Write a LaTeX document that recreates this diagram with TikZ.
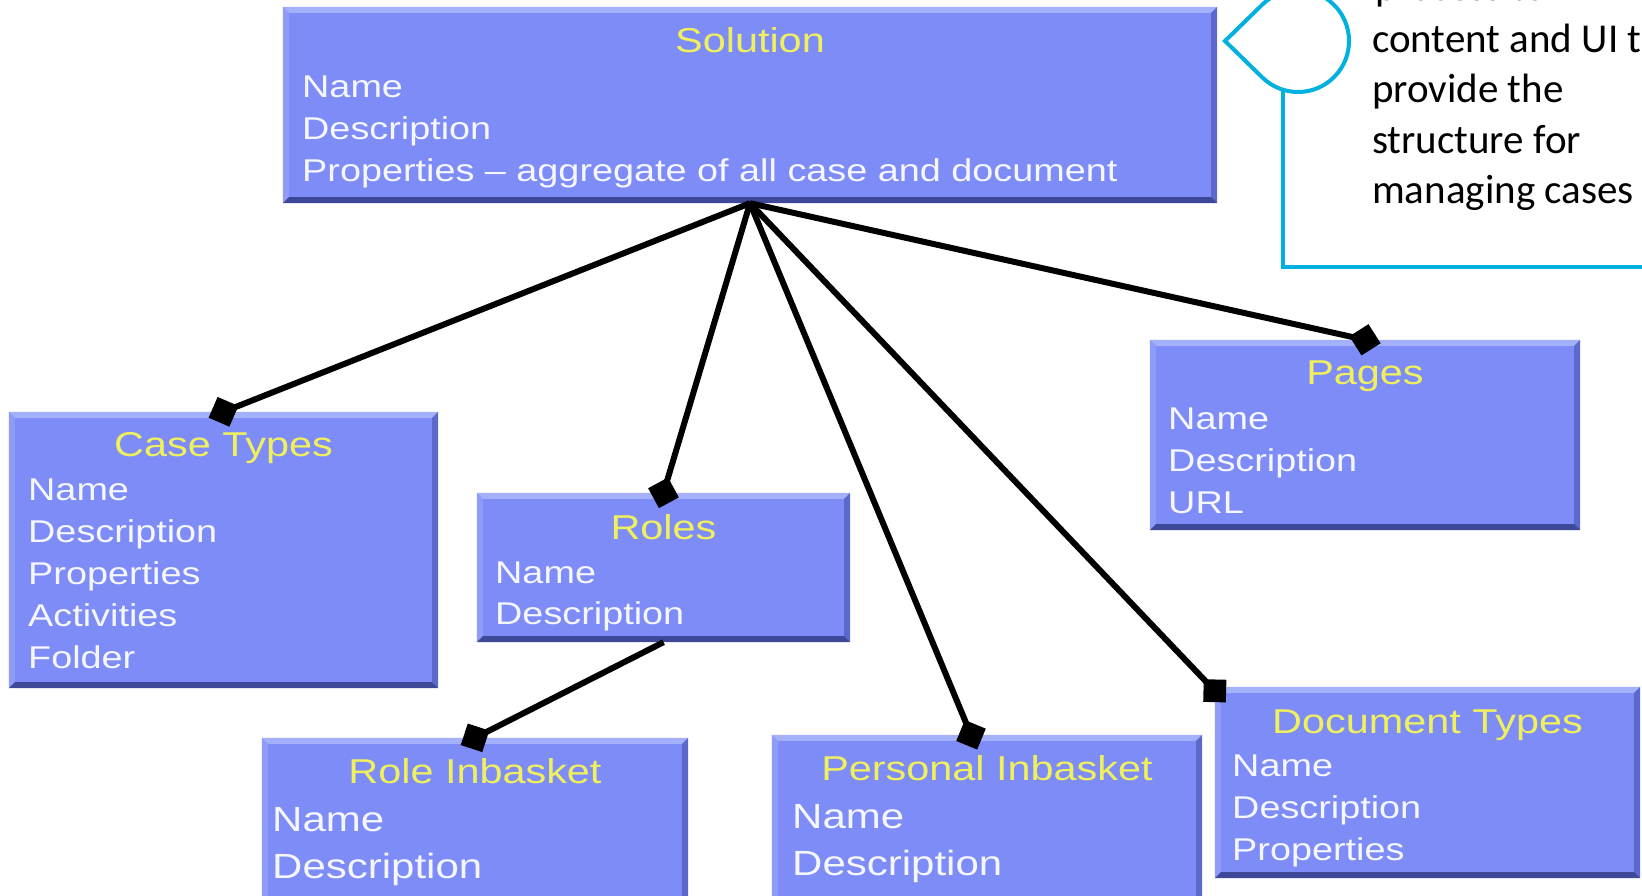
\documentclass[tikz,border=0pt]{standalone}
\usepackage{fontspec}
\setmainfont{Liberation Sans}
\newfontfamily\boxfont[FakeStretch=1.2]{Liberation Sans}
\newfontfamily\notefont{Carlito}
\usetikzlibrary{arrows.meta}

\definecolor{boxblue}{RGB}{125,140,246}
\definecolor{bvtop}{RGB}{165,176,251}
\definecolor{bvleft}{RGB}{142,156,248}
\definecolor{bvright}{RGB}{92,104,204}
\definecolor{bvbottom}{RGB}{62,72,152}
\definecolor{titleyellow}{RGB}{240,240,95}
\definecolor{fieldwhite}{RGB}{246,246,255}
\definecolor{notecyan}{RGB}{0,176,222}

% one line per field, stacked by a fixed baseline step
\newcommand\fieldlist[6]{%
  \foreach \txt [count=\i from 0] in {#6}
    \node[#5, anchor=base west] (#1-\i) at (#2, {#3+\i*#4}) {\txt};%
}

\begin{document}
\begin{tikzpicture}[x=1pt,y=-1pt,
  ebox/.style={rectangle, fill=boxblue, draw=none, inner sep=0pt},
  etitle/.style={inner sep=0pt, text=titleyellow, font=\boxfont\fontsize{34.5}{38}\selectfont},
  efield/.style={inner sep=0pt, text=fieldwhite, font=\boxfont\fontsize{31.5}{36}\selectfont},
  bigfield/.style={inner sep=0pt, text=fieldwhite, font=\boxfont\fontsize{35}{38}\selectfont},
  conn/.style={line width=6pt, black, -{Turned Square[length=32pt,width=32pt]}, shorten >=-16pt},
  callout/.style={draw=notecyan, line width=4pt, line join=miter},
  note/.style={inner sep=0pt, text=black, font=\notefont\fontsize{41}{50}\selectfont}]

\useasboundingbox (0,0) rectangle (1642,895);
\clip (0,0) rectangle (1642,895);
\fill[white] (0,0) rectangle (1642,895);

% entity boxes
\node[ebox, minimum width=934pt, minimum height=196pt] (sol) at (750,105) {};
\node[ebox, minimum width=429pt, minimum height=276pt] (case) at (223.5,550) {};
\node[ebox, minimum width=373pt, minimum height=149pt] (roles) at (663.5,567.5) {};
\node[ebox, minimum width=430pt, minimum height=190pt] (pages) at (1365,435) {};
\node[ebox, minimum width=426pt, minimum height=167pt] (ri) at (475,821.5) {};
\node[ebox, minimum width=430pt, minimum height=170pt] (pi) at (987,820) {};
\node[ebox, minimum width=425pt, minimum height=191pt] (dt) at (1427.5,782.5) {};

% bevelled edges
\foreach \n in {sol,case,roles,pages,ri,pi,dt}{
  \fill[bvtop] (\n.north west) -- (\n.north east) -- ([shift={(-6,6)}]\n.north east) -- ([shift={(6,6)}]\n.north west) -- cycle;
  \fill[bvleft] (\n.north west) -- ([shift={(6,6)}]\n.north west) -- ([shift={(6,-6)}]\n.south west) -- (\n.south west) -- cycle;
  \fill[bvright] (\n.north east) -- (\n.south east) -- ([shift={(-6,-6)}]\n.south east) -- ([shift={(-6,6)}]\n.north east) -- cycle;
  \fill[bvbottom] (\n.south west) -- (\n.south east) -- ([shift={(-6,-6)}]\n.south east) -- ([shift={(6,-6)}]\n.south west) -- cycle;
}

% titles
\node[etitle, anchor=base] (sol-t) at (750,52) {Solution};
\node[etitle, anchor=base] (case-t) at (223.5,456) {Case Types};
\node[etitle, anchor=base] (roles-t) at (663.5,539) {Roles};
\node[etitle, anchor=base] (pages-t) at (1365,384) {Pages};
\node[etitle, anchor=base] (ri-t) at (475,783) {Role Inbasket};
\node[etitle, anchor=base] (pi-t) at (987,780) {Personal Inbasket};
\node[etitle, anchor=base] (dt-t) at (1427.5,733) {Document Types};

% attributes
\fieldlist{sol}{302}{97}{42}{efield}{Name,Description,Properties – aggregate of all case and document}
\fieldlist{case}{28}{500}{42}{efield}{Name,Description,Properties,Activities,Folder}
\fieldlist{roles}{495}{583}{41.5}{efield}{Name,Description}
\fieldlist{pages}{1168}{429}{42}{efield}{Name,Description,URL}
\fieldlist{ri}{272}{831}{47}{bigfield}{Name,Description}
\fieldlist{pi}{792}{828}{47}{bigfield}{Name,Description}
\fieldlist{dt}{1232}{776}{42}{efield}{Name,Description,Properties}

% aggregation links
\draw[conn] (sol.south) -- (case.north);
\draw[conn] (sol.south) -- (roles.north);
\draw[conn] (sol.south) -- (pages.north);
\draw[conn] (sol.south) -- ([xshift=-16pt]pi.north);
\draw[conn] (sol.south) -- ([yshift=-4pt]dt.north west);
\draw[conn] (roles.south) -- (ri.north);

% note callout
\draw[callout] (1225,41) -- (1262.4,77.5) arc (134.3:-134.3:51) -- cycle;
\draw[callout] (1283,90) -- (1283,267) -- (1660,267);
\node[note, anchor=base west] (note-0) at (1375,0.5) {process to};
\node[note, anchor=base west] (note-1) at (1372,52) {content and UI to};
\node[note, anchor=base west] (note-2) at (1372,102.5) {provide the};
\node[note, anchor=base west] (note-3) at (1372,153) {structure for};
\node[note, anchor=base west] (note-4) at (1372,203.5) {managing cases};
\end{tikzpicture}
\end{document}
